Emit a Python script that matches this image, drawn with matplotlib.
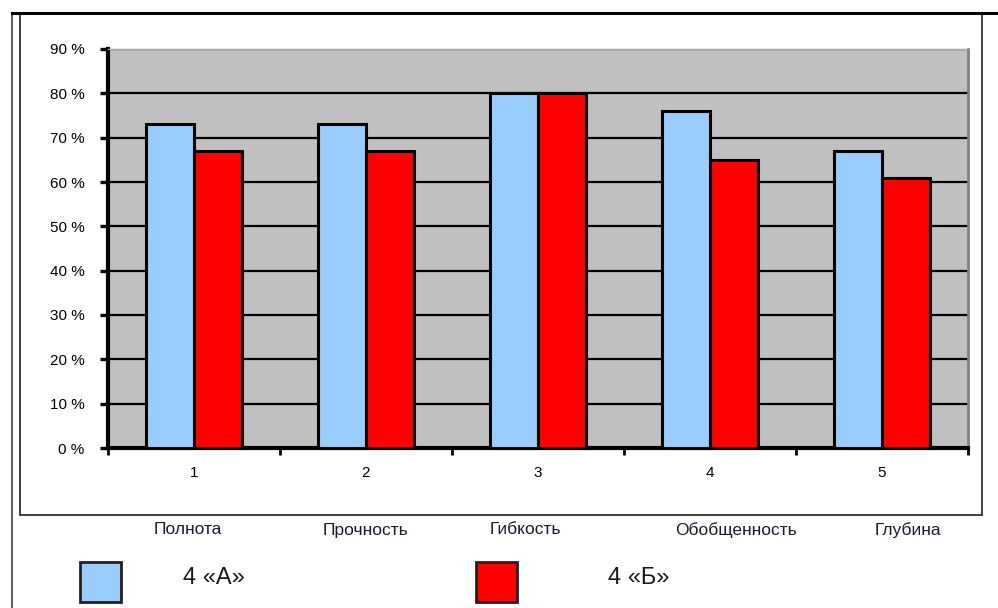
import numpy as np
import matplotlib
matplotlib.use("Agg")
import matplotlib.pyplot as plt
from matplotlib.patches import Rectangle
from matplotlib.lines import Line2D

plt.rcParams['font.family'] = ['Liberation Sans', 'DejaVu Sans']

# results per criterion for the two classes
categories = ['1', '2', '3', '4', '5']
criteria = ['Полнота', 'Прочность', 'Гибкость', 'Обобщенность', 'Глубина']
class_a = [0.73, 0.73, 0.80, 0.76, 0.67]
class_b = [0.67, 0.67, 0.80, 0.65, 0.61]
series_names = ['4 «А»', '4 «Б»']
yticks = [0.0, 0.1, 0.2, 0.3, 0.4, 0.5, 0.6, 0.7, 0.8, 0.9]
ytick_labels = ['%d %%' % round(v * 100) for v in yticks]

W, H = 998, 608
blue = '#99CCFF'
red = '#FF0000'

fig = plt.figure(figsize=(W / 100, H / 100), dpi=100)
fig.patch.set_facecolor('white')


def px(x0, y0, w, h):
    # pixel box (top-left origin) -> figure fraction box
    return [x0 / W, 1 - (y0 + h) / H, w / W, h / H]


# outer frame lines
fig.add_artist(Line2D([12 / W, 12 / W], [0, 1 - 13 / H], transform=fig.transFigure,
                      color='#404040', lw=1.2))
fig.add_artist(Line2D([12 / W, 1], [1 - 13 / H, 1 - 13 / H], transform=fig.transFigure,
                      color='black', lw=2.2))
fig.add_artist(Rectangle((20 / W, 1 - 515 / H), (982 - 20) / W, (515 - 13) / H,
                         transform=fig.transFigure, fill=False, edgecolor='#303030', lw=1.3))

ax = fig.add_axes(px(108, 49, 968 - 108, 448 - 49))
ax.set_facecolor('#C0C0C0')

x = np.arange(1, len(categories) + 1)
bw = 0.28
ax.bar(x - bw / 2, class_a, bw, color=blue, edgecolor='black', lw=2.2, zorder=3)
ax.bar(x + bw / 2, class_b, bw, color=red, edgecolor='black', lw=2.2, zorder=3)

ax.set_xlim(0.5, len(categories) + 0.5)
ax.set_ylim(0, 0.9)

ax.set_yticks(yticks)
ax.set_yticklabels(ytick_labels)
ax.yaxis.grid(True, color='black', lw=1.6, zorder=1)
ax.set_axisbelow(True)
ax.tick_params(axis='y', direction='out', length=6, width=2.4, pad=11,
               labelsize=11, colors='black')

ax.set_xticks(x)
ax.set_xticklabels(categories)
ax.set_xticks(np.arange(0.5, len(categories) + 1, 1.0), minor=True)
ax.tick_params(axis='x', which='major', length=0, pad=13, labelsize=11)
ax.tick_params(axis='x', which='minor', direction='out', length=5, width=2)

for side in ['left', 'bottom']:
    ax.spines[side].set_linewidth(3)
    ax.spines[side].set_color('black')
ax.spines['right'].set_color('#808080')
ax.spines['right'].set_linewidth(2)
ax.spines['top'].set_color('#a8a8a8')
ax.spines['top'].set_linewidth(1.0)

# criterion names under the chart frame
name_x = [188, 366, 525, 736, 908]
for name, cx in zip(criteria, name_x):
    fig.text(cx / W, 1 - 530 / H, name, ha='center', va='center',
             fontsize=12.5, color='#1a1a33')

# legend boxes and labels
legend_items = [(80, blue, 183), (476, red, 608)]
for (bx, col, tx), label in zip(legend_items, series_names):
    fig.add_artist(Rectangle((bx / W, 1 - 602 / H), 41 / W, 40 / H,
                             transform=fig.transFigure, facecolor=col,
                             edgecolor='#202020', lw=2))
    fig.text(tx / W, 1 - 578 / H, label, ha='left', va='center',
             fontsize=17, color='#1a1a1a')

fig.savefig('out.png', dpi=100)
